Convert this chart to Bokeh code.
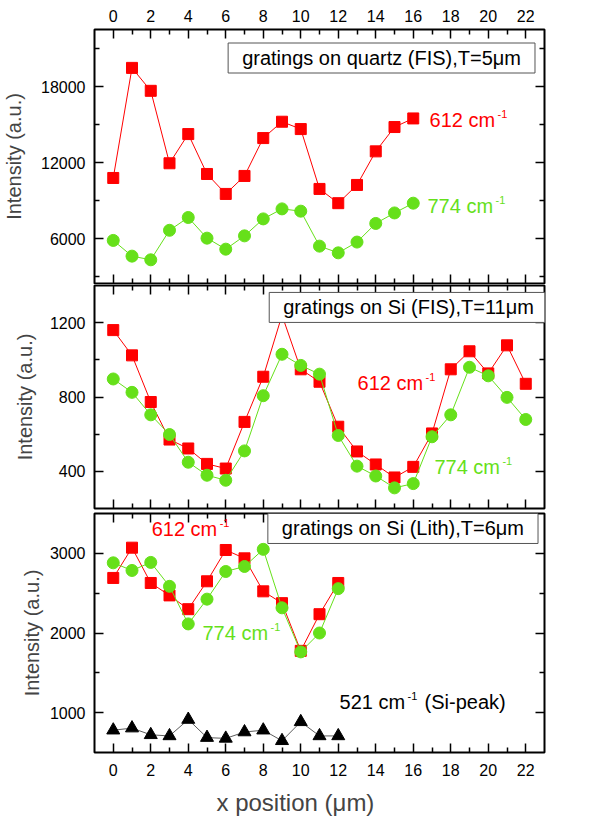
from bokeh.plotting import figure
from bokeh.layouts import column
from bokeh.models import (FixedTicker, LinearAxis, Label, Range1d, Title,
                          CustomJSTickFormatter)
from bokeh.embed import file_html
from bokeh.resources import INLINE

# ---------------- data ----------------
x_quartz = list(range(17))
quartz_612 = [10780, 19470, 17660, 11940, 14245, 11095, 9520, 10940, 13930,
              15220, 14640, 9915, 8790, 10230, 12880, 14800, 15480]
quartz_774 = [5850, 4610, 4320, 6650, 7660, 6030, 5160, 6210, 7550, 8340,
              8160, 5400, 4870, 5720, 7190, 8020, 8790]

x_si_fis = list(range(23))
si_fis_612 = [1160, 1024, 773, 571, 523, 440, 415, 666, 909, 1240, 949, 882,
              640, 507, 437, 367, 424, 604, 949, 1046, 927, 1078, 871]
si_fis_774 = [897, 825, 704, 598, 449, 379, 352, 510, 807, 1030, 970, 923,
              593, 428, 375, 311, 334, 586, 704, 960, 914, 798, 679]

x_si_lith = list(range(13))
si_lith_612 = [2691, 3071, 2628, 2472, 2299, 2649, 3042, 2937, 2523, 2375,
               1776, 2236, 2628]
si_lith_774 = [2881, 2785, 2886, 2586, 2114, 2425, 2772, 2835, 3050, 2316,
               1763, 2000, 2557]
si_peak_521 = [780, 806, 722, 708, 914, 687, 677, 757, 780, 647, 885, 708, 708]

x_major = [0, 2, 4, 6, 8, 10, 12, 14, 16, 18, 20, 22]
x_minor = [1, 3, 5, 7, 9, 11, 13, 15, 17, 19, 21]

y1_major = [6000, 12000, 18000]
y1_minor = [3000, 9000, 15000, 21000]
y2_major = [400, 800, 1200]
y2_minor = [600, 1000]
y3_major = [1000, 2000, 3000]
y3_minor = [1500, 2500]

RED = "#FF0000"
GREEN = "#66E01A"
FONT = "Liberation Sans"


def styled_axis(ticks, minor, labelled, standoff=9):
    ax = LinearAxis(ticker=FixedTicker(ticks=ticks, minor_ticks=minor))
    ax.axis_line_color = None
    ax.major_tick_in = 9
    ax.major_tick_out = 0
    ax.minor_tick_in = 5
    ax.minor_tick_out = 0
    ax.major_tick_line_width = 1.5
    ax.minor_tick_line_width = 1.5
    ax.major_tick_line_color = "black"
    ax.minor_tick_line_color = "black"
    ax.major_label_text_font = FONT
    ax.major_label_text_color = "black"
    if labelled:
        ax.major_label_text_font_size = "16px"
        ax.major_label_standoff = standoff
    else:
        ax.formatter = CustomJSTickFormatter(code="return ''")
        ax.major_label_text_font_size = "0px"
        ax.major_label_standoff = 0
    return ax


def make_fig(yr, fh, ymaj, ymin, top_lab, bot_lab, mb_top, mb_bot,
             ylab_standoff):
    p = figure(frame_width=450, frame_height=fh,
               x_range=Range1d(-1, 23), y_range=Range1d(*yr),
               output_backend="svg", toolbar_location=None,
               x_axis_location=None, y_axis_location=None,
               min_border_left=90, min_border_right=10,
               min_border_top=mb_top, min_border_bottom=mb_bot)
    p.grid.visible = False
    p.outline_line_color = "black"
    p.outline_line_width = 2
    p.outline_line_alpha = 1
    p.background_fill_color = "white"
    p.border_fill_color = "white"
    left = styled_axis(ymaj, ymin, True, 9)
    left.axis_label = "Intensity (a.u.)"
    left.axis_label_text_font = FONT
    left.axis_label_text_font_size = "20px"
    left.axis_label_text_font_style = "normal"
    left.axis_label_standoff = ylab_standoff
    p.add_layout(left, "left")
    p.add_layout(styled_axis(ymaj, ymin, False), "right")
    p.add_layout(styled_axis(x_major, x_minor, top_lab, 8), "above")
    p.add_layout(styled_axis(x_major, x_minor, bot_lab, 11), "below")
    return p


def cm_label(p, x, y, num, color, tail=None):
    p.add_layout(Label(x=x, y=y, text=f"{num} cm", text_color=color,
                       text_font=FONT, text_font_size="20px",
                       text_baseline="middle"))
    p.add_layout(Label(x=x, y=y, x_offset=68, y_offset=6, text="-1",
                       text_color=color, text_font=FONT,
                       text_font_size="11px", text_baseline="middle"))
    if tail:
        p.add_layout(Label(x=x, y=y, x_offset=85, text=tail,
                           text_color=color, text_font=FONT,
                           text_font_size="20px", text_baseline="middle"))


def box_label(p, x, y, text):
    p.add_layout(Label(x=x, y=y, text=text, text_font=FONT,
                       text_font_size="20px", text_color="black",
                       text_align="center", text_baseline="middle",
                       border_line_color="#555555", border_line_width=1,
                       background_fill_color="white", padding=(14, 4)))


# ---------------- panel 1 ----------------
p1 = make_fig((2450, 22500), 254, y1_major, y1_minor, True, False, 29, 1, 13)
p1.line(x_quartz, quartz_612, color=RED, line_width=1)
p1.scatter(x_quartz, quartz_612, marker="square", size=11, color=RED)
p1.line(x_quartz, quartz_774, color=GREEN, line_width=1)
p1.scatter(x_quartz, quartz_774, marker="circle", size=12, color=GREEN)
box_label(p1, 14.31, 20250, "gratings on quartz (FIS),T=5μm")
cm_label(p1, 16.87, 15317, "612", RED)
cm_label(p1, 16.76, 8606, "774", GREEN)

# ---------------- panel 2 ----------------
p2 = make_fig((200, 1400), 223, y2_major, y2_minor, False, False, 1, 2, 11)
p2.line(x_si_fis, si_fis_612, color=RED, line_width=1)
p2.scatter(x_si_fis, si_fis_612, marker="square", size=11, color=RED)
p2.line(x_si_fis, si_fis_774, color=GREEN, line_width=1)
p2.scatter(x_si_fis, si_fis_774, marker="circle", size=12, color=GREEN)
box_label(p2, 15.75, 1282, "gratings on Si (FIS),T=11μm")
cm_label(p2, 13.03, 873, "612", RED)
cm_label(p2, 17.13, 421, "774", GREEN)

# ---------------- panel 3 ----------------
p3 = make_fig((500, 3500), 239, y3_major, y3_minor, False, True, 3, 0, 4)
p3.line(x_si_lith, si_lith_612, color=RED, line_width=1)
p3.scatter(x_si_lith, si_lith_612, marker="square", size=11, color=RED)
p3.line(x_si_lith, si_lith_774, color=GREEN, line_width=1)
p3.scatter(x_si_lith, si_lith_774, marker="circle", size=12, color=GREEN)
p3.line(x_si_lith, si_peak_521, color="#333333", line_width=0.8)
p3.scatter(x_si_lith, si_peak_521, marker="triangle", size=13, color="black")
box_label(p3, 15.45, 3312, "gratings on Si (Lith),T=6μm")
cm_label(p3, 2.05, 3300, "612", RED)
cm_label(p3, 4.76, 1994, "774", GREEN)
cm_label(p3, 12.07, 1128, "521", "black", tail="(Si-peak)")
p3.add_layout(Title(text="x position (μm)", align="left", offset=122,
                    text_font=FONT, text_font_size="24px",
                    text_font_style="normal", standoff=17), "below")

layout = column(p1, p2, p3, spacing=0)
open("out.html", "w").write(file_html(layout, INLINE))
